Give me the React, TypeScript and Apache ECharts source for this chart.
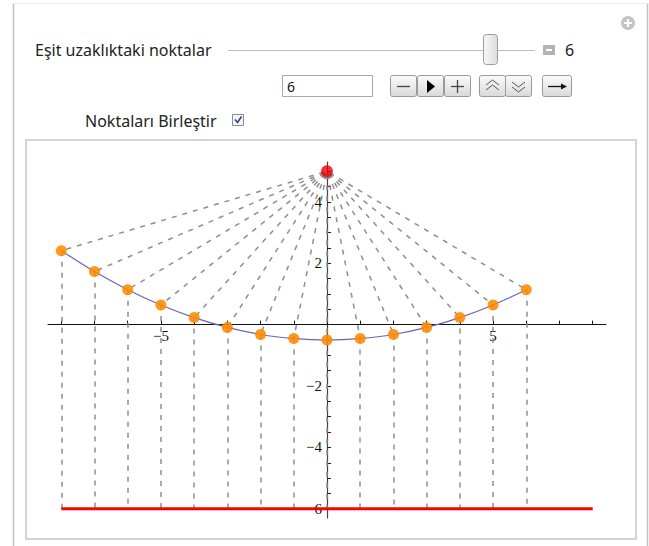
import React, { useEffect, useRef } from 'react';
import * as echarts from 'echarts';

// ---- data ----
const pointX = [-8, -7, -6, -5, -4, -3, -2, -1, 0, 1, 2, 3, 4, 5, 6];
const pointY = [2.41, 1.73, 1.14, 0.64, 0.23, -0.09, -0.32, -0.45, -0.5, -0.45, -0.32, -0.09, 0.23, 0.64, 1.14];
const focusPoint = [0, 5];
const directrixY = -6;
const directrixX = [-8, 8];
const xTickValues = [-8, -7, -6, -5, -4, -3, -2, -1, 0, 1, 2, 3, 4, 5, 6, 7, 8];
const xLabelValues = [-5, 5];
const yTickValues = [-6, -5.5, -5, -4.5, -4, -3.5, -3, -2.5, -2, -1.5, -1, -0.5, 0, 0.5, 1, 1.5, 2, 2.5, 3, 3.5, 4, 4.5, 5];
const yLabelValues = [-6, -4, -2, 2, 4];
const sliderLabel = 'Eşit uzaklıktaki noktalar';
const sliderValue = '6';
const checkboxLabel = 'Noktaları Birleştir';

const W = 649;
const H = 546;
const UI_FONT = 'Noto Sans';
const AXIS_FONT = 'Liberation Serif';

const GRID_LEFT = 48;
const GRID_TOP = 162;
const GRID_W = 558;
const GRID_H = 356;

const fmt = (v: number) => (v < 0 ? '\u2212' + Math.abs(v) : String(v));

function btnGrad() {
  return new echarts.graphic.LinearGradient(0, 0, 0, 1, [
    { offset: 0, color: '#fbfbfb' },
    { offset: 1, color: '#d9d9d9' },
  ]);
}

function button(x: number, w: number) {
  return {
    type: 'rect',
    shape: { x: x + 0.5, y: 75.5, width: w, height: 21, r: 2 },
    style: { fill: btnGrad(), stroke: '#9a9a9a', lineWidth: 1 },
  };
}

function buildGraphic() {
  const g: any[] = [];
  g.push({ type: 'line', shape: { x1: 13.5, y1: 3, x2: 13.5, y2: H }, style: { stroke: '#c2c2c2', lineWidth: 1.5 } });
  g.push({ type: 'line', shape: { x1: 647.5, y1: 3, x2: 647.5, y2: H }, style: { stroke: '#c2c2c2', lineWidth: 1.5 } });
  g.push({ type: 'line', shape: { x1: 13, y1: 3.5, x2: 648, y2: 3.5 }, style: { stroke: '#ececec', lineWidth: 1 } });
  g.push({ type: 'rect', shape: { x: 26, y: 140, width: 610, height: 399 }, style: { fill: 'none', stroke: '#d4d4d4', lineWidth: 2 } });
  g.push({ type: 'circle', shape: { cx: 628, cy: 23, r: 7 }, style: { fill: '#c4c4c4' } });
  g.push({ type: 'rect', shape: { x: 624, y: 22, width: 8, height: 2 }, style: { fill: '#fff' } });
  g.push({ type: 'rect', shape: { x: 627, y: 19, width: 2, height: 8 }, style: { fill: '#fff' } });
  g.push({ type: 'text', x: 35, y: 50, style: { text: sliderLabel, fontSize: 16, fontFamily: UI_FONT, fill: '#222', verticalAlign: 'middle', align: 'left' } });
  g.push({ type: 'line', shape: { x1: 228, y1: 50.5, x2: 535, y2: 50.5 }, style: { stroke: '#bdbdbd', lineWidth: 1 } });
  g.push({
    type: 'rect',
    shape: { x: 483.5, y: 34.5, width: 14, height: 30, r: 3 },
    style: {
      fill: new echarts.graphic.LinearGradient(0, 0, 1, 0, [
        { offset: 0, color: '#f6f6f6' },
        { offset: 1, color: '#dedede' },
      ]),
      stroke: '#9c9c9c',
      lineWidth: 1,
    },
  });
  g.push({ type: 'rect', shape: { x: 543, y: 45, width: 12, height: 10 }, style: { fill: '#b3b3b3' } });
  g.push({ type: 'rect', shape: { x: 546, y: 49, width: 6, height: 2 }, style: { fill: '#fff' } });
  g.push({ type: 'text', x: 565, y: 50, style: { text: sliderValue, fontSize: 16, fontFamily: UI_FONT, fill: '#222', verticalAlign: 'middle', align: 'left' } });
  g.push({ type: 'rect', shape: { x: 282.5, y: 75.5, width: 90, height: 21 }, style: { fill: '#fff', stroke: '#a9a9a9', lineWidth: 1 } });
  g.push({ type: 'text', x: 287, y: 86, style: { text: sliderValue, fontSize: 14, fontFamily: UI_FONT, fill: '#111', verticalAlign: 'middle', align: 'left' } });
  g.push(button(390, 26));
  g.push(button(417, 26));
  g.push(button(444, 26));
  g.push(button(479, 26));
  g.push(button(505, 26));
  g.push(button(542, 29));
  g.push({ type: 'line', shape: { x1: 397, y1: 86.5, x2: 410, y2: 86.5 }, style: { stroke: '#444', lineWidth: 1.3 } });
  g.push({ type: 'polygon', shape: { points: [[427, 80], [427, 93], [435, 86.5]] }, style: { fill: '#000' } });
  g.push({ type: 'line', shape: { x1: 451, y1: 86.5, x2: 464, y2: 86.5 }, style: { stroke: '#444', lineWidth: 1.3 } });
  g.push({ type: 'line', shape: { x1: 457.5, y1: 80, x2: 457.5, y2: 93 }, style: { stroke: '#444', lineWidth: 1.3 } });
  g.push({ type: 'polyline', shape: { points: [[486, 85], [492.5, 80], [499, 85]] }, style: { stroke: '#555', lineWidth: 1, fill: 'none' } });
  g.push({ type: 'polyline', shape: { points: [[486, 90], [492.5, 85], [499, 90]] }, style: { stroke: '#555', lineWidth: 1, fill: 'none' } });
  g.push({ type: 'polyline', shape: { points: [[512, 82], [518.5, 87], [525, 82]] }, style: { stroke: '#555', lineWidth: 1, fill: 'none' } });
  g.push({ type: 'polyline', shape: { points: [[512, 87], [518.5, 92], [525, 87]] }, style: { stroke: '#555', lineWidth: 1, fill: 'none' } });
  g.push({ type: 'line', shape: { x1: 548, y1: 86.5, x2: 563, y2: 86.5 }, style: { stroke: '#111', lineWidth: 1.3 } });
  g.push({ type: 'polygon', shape: { points: [[561, 83.5], [567, 86.5], [561, 89.5]] }, style: { fill: '#111' } });
  g.push({ type: 'text', x: 85, y: 121, style: { text: checkboxLabel, fontSize: 16, fontFamily: UI_FONT, fill: '#222', verticalAlign: 'middle', align: 'left' } });
  g.push({ type: 'rect', shape: { x: 232.5, y: 114.5, width: 11, height: 11 }, style: { fill: '#f4f4fb', stroke: '#8d8d8d', lineWidth: 1 } });
  g.push({ type: 'polyline', shape: { points: [[235, 119.5], [237.5, 122.5], [241.5, 116.5]] }, style: { stroke: '#2b3f7f', lineWidth: 1.5, fill: 'none' } });
  return g;
}

export default function App() {
  const ref = useRef<HTMLDivElement>(null);
  useEffect(() => {
    document.body.style.margin = '0';
    const chart = echarts.init(ref.current!, null, { renderer: 'svg', width: W, height: H });
    const pts = pointX.map((x, i) => [x, pointY[i]]);
    const toFocus = pointX.map((x, i) => ({ coords: [[focusPoint[0], focusPoint[1]], [x, pointY[i]]] }));
    const toDirectrix = pointX.map((x, i) => ({ coords: [[x, pointY[i]], [x, directrixY]] }));
    const dashStyle = { color: '#8e8e8e', width: 1.5, type: [5, 6], opacity: 1 };
    const xMin = -8.4, xMax = 8.4, yMin = -6.3, yMax = 5.3;
    // pixel location of the zero lines inside the grid, so the labels sit beside the axes
    const zeroY = GRID_TOP + (yMax / (yMax - yMin)) * GRID_H;
    const zeroX = GRID_LEFT + (-xMin / (xMax - xMin)) * GRID_W;
    chart.setOption({
      animation: false,
      backgroundColor: '#fff',
      grid: { left: GRID_LEFT, top: GRID_TOP, width: GRID_W, height: GRID_H, containLabel: false },
      xAxis: {
        type: 'value',
        min: xMin,
        max: xMax,
        axisLine: { show: true, onZero: true, lineStyle: { color: '#111', width: 1 } },
        axisTick: { show: true, inside: true, length: 4, customValues: xTickValues, lineStyle: { color: '#111' } },
        axisLabel: {
          customValues: xLabelValues,
          formatter: fmt,
          margin: zeroY + 4 - (GRID_TOP + GRID_H),
          fontFamily: AXIS_FONT,
          fontSize: 15,
          color: '#111',
        },
        splitLine: { show: false },
      },
      yAxis: {
        type: 'value',
        min: yMin,
        max: yMax,
        axisLine: { show: true, onZero: true, lineStyle: { color: '#444', width: 1.2 } },
        axisTick: { show: true, inside: true, length: 4, customValues: yTickValues, lineStyle: { color: '#222' } },
        axisLabel: {
          customValues: yLabelValues,
          formatter: fmt,
          margin: GRID_LEFT - (zeroX - 5),
          fontFamily: AXIS_FONT,
          fontSize: 15,
          color: '#111',
        },
        splitLine: { show: false },
      },
      graphic: buildGraphic(),
      series: [
        {
          type: 'lines',
          coordinateSystem: 'cartesian2d',
          polyline: false,
          silent: true,
          data: toFocus,
          lineStyle: { ...dashStyle, dashOffset: 8 },
          z: 2,
        },
        {
          type: 'lines',
          coordinateSystem: 'cartesian2d',
          polyline: false,
          silent: true,
          data: toDirectrix,
          lineStyle: dashStyle,
          z: 2,
        },
        {
          type: 'line',
          data: pts,
          smooth: 0.3,
          showSymbol: false,
          symbol: 'none',
          lineStyle: { color: '#6666bb', width: 1.2 },
          z: 3,
        },
        {
          type: 'line',
          data: directrixX.map((x) => [x, directrixY]),
          symbol: 'none',
          lineStyle: { color: '#ff0000', width: 3 },
          z: 3,
        },
        {
          type: 'scatter',
          data: pts,
          symbolSize: 11,
          itemStyle: { color: '#ff8a00', opacity: 0.88 },
          z: 4,
        },
        {
          type: 'scatter',
          data: [focusPoint],
          symbolSize: 12,
          itemStyle: { color: '#ee0000' },
          z: 5,
        },
      ],
    });
    return () => chart.dispose();
  }, []);
  return <div ref={ref} style={{ width: W, height: H }} />;
}
